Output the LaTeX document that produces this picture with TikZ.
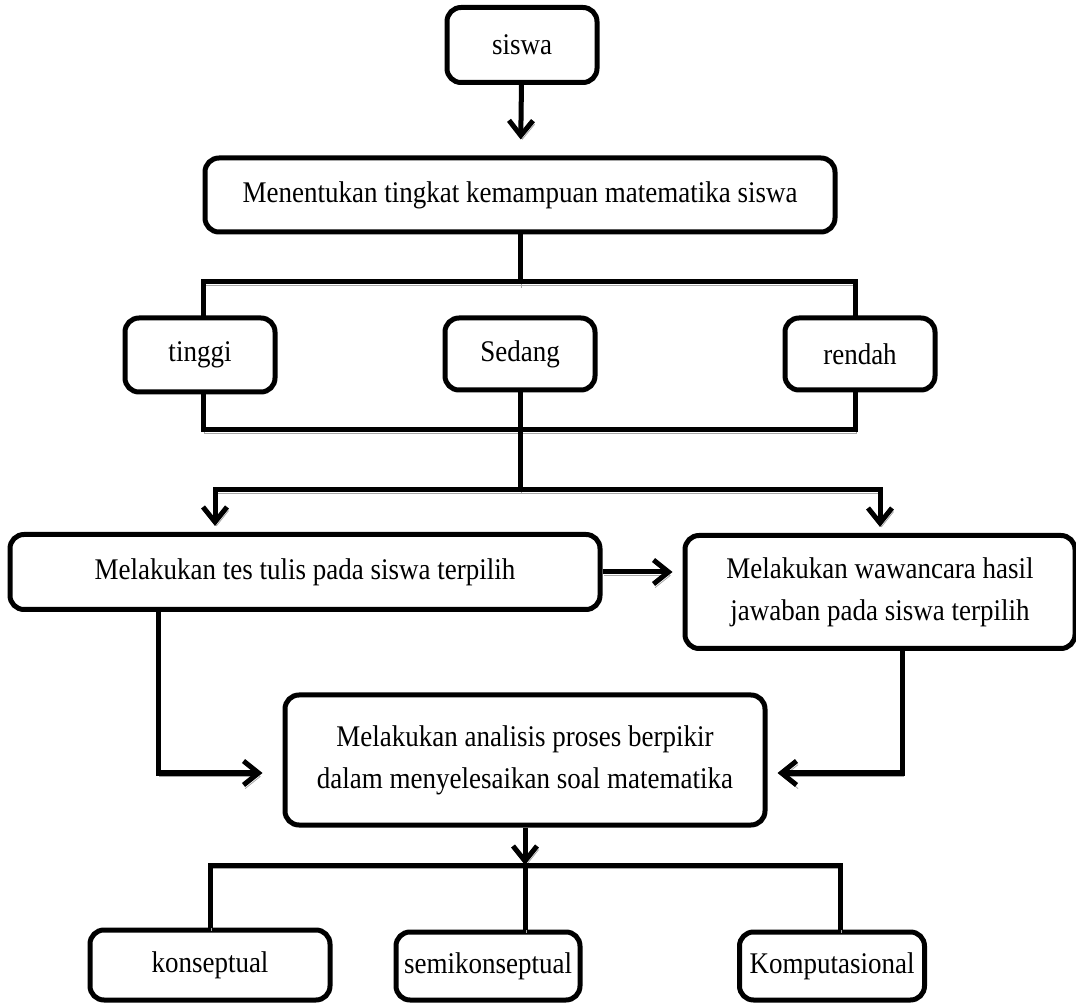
\documentclass[tikz,border=0pt]{standalone}
\usepackage{fontspec}
\setmainfont{Liberation Serif}[FakeStretch=0.9]
\usetikzlibrary{arrows.meta, positioning}

\begin{document}
\begin{tikzpicture}[x=0.5pt, y=-0.5pt,
    box/.style={draw, line width=2.5pt, rounded corners=7pt, fill=white,
      font=\fontsize{15}{21}\selectfont, align=center, inner sep=2pt},
    link/.style={line width=2.5pt,
      preaction={draw=black!35, transform canvas={shift={(0.8pt,-1.8pt)}}}},
    tip/.style={-{Straight Barb[length=7.5pt,width=12pt]}}]
  \useasboundingbox (0,0) rectangle (1076,1004);

  % bracket round the three levels
  \draw[link] (203,282) rectangle (855,430);

  \node[box, minimum width=75pt, minimum height=37.5pt] (siswa) at (522,45) {siswa};
  \node[box, minimum width=315pt, minimum height=37pt] (tingkat) at (520,195)
    {Menentukan tingkat kemampuan matematika siswa};
  \node[box, minimum width=75pt, minimum height=37pt] (tinggi) at (200,355) {tinggi};
  \node[box, minimum width=75pt, minimum height=36pt] (sedang) at (520,354) {Sedang};
  \node[box, minimum width=75pt, minimum height=36pt] (rendah) at (860,354) {rendah};

  \node[box, minimum width=295pt, minimum height=37.5pt] (tes) at (305,572)
    {Melakukan tes tulis pada siswa terpilih};
  \node[box, minimum width=195pt, minimum height=56.5pt] (wawancara) at (880,592)
    {Melakukan wawancara hasil\\jawaban pada siswa terpilih};
  \node[box, minimum width=240pt, minimum height=65pt] (analisis) at (525,760)
    {Melakukan analisis proses berpikir\\dalam menyelesaikan soal matematika};

  \node[box, minimum width=120pt, minimum height=35pt] (konseptual) at (210,965) {konseptual};
  \node[box, minimum width=92pt, minimum height=34pt] (semi) at (488,966) {semikonseptual};
  \node[box, minimum width=92.5pt, minimum height=34pt] (komputasi) at (832,966) {Komputasional};

  \coordinate (split) at (520,490);
  \coordinate (splitL) at (215,490);
  \coordinate (feedL) at (158,773);
  \coordinate (feedR) at (902,773);
  \coordinate (branch) at (525,865);
  \coordinate (branchR) at (840,865);

  % connectors
  \draw[link, tip, shorten >=8pt] (siswa) -- (tingkat);
  \draw[link] (tingkat.south) -- ++(0,50);
  \draw[link] (sedang.south) -- (split);
  \draw[link, tip, shorten >=3pt] (split) -| (splitL |- tes.north);
  \draw[link, tip, shorten >=3pt] (split) -| (wawancara.north);
  \draw[link, tip, shorten >=5pt] (tes.east) -- (tes.east -| wawancara.west);
  \draw[link, tip, shorten >=10pt] (tes.south -| feedL) -- (feedL) -- (feedL -| analisis.west);
  \draw[link, tip, shorten >=5pt] (wawancara.south -| feedR) -- (feedR) -- (feedR -| analisis.east);
  \draw[link, tip] (analisis) -- (branch);
  \draw[link] (konseptual.north) |- (branchR) -- (branchR |- komputasi.north);
  \draw[link] (branch) -- (branch |- semi.north);
\end{tikzpicture}
\end{document}
